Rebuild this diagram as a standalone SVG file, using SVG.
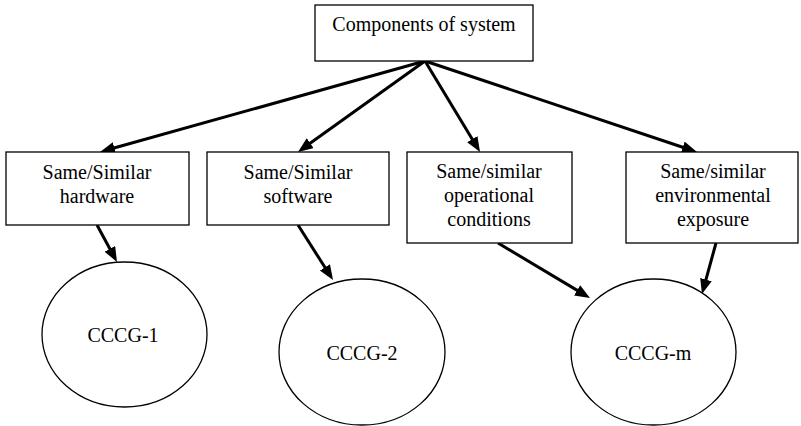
<svg xmlns="http://www.w3.org/2000/svg" width="801" height="426" viewBox="0 0 801 426">
  <style>
    .box { fill: #fff; stroke: #000; stroke-width: 1.3; }
    .oval { fill: #fff; stroke: #000; stroke-width: 1.3; }
    .lbl { font-family: "Liberation Serif", "Times New Roman", serif; font-size: 20px; fill: #000; text-anchor: middle; }
    .edge { stroke: #000; stroke-width: 3; fill: none; marker-end: url(#head); }
  </style>
  <defs>
    <marker id="head" markerUnits="userSpaceOnUse" markerWidth="16" markerHeight="13" refX="7" refY="6" orient="auto">
      <path d="M0,0 L15,6 L0,12 z" fill="#000"/>
    </marker>
  </defs>
  <rect width="801" height="426" fill="#fff"/>

  <g id="connectors">
    <line class="edge" x1="425" y1="61" x2="107.7" y2="149.8"/>
    <line class="edge" x1="425" y1="61" x2="304.5" y2="147.3"/>
    <line class="edge" x1="425" y1="61" x2="475.9" y2="145.2"/>
    <line class="edge" x1="425" y1="61" x2="689.4" y2="149.5"/>
    <line class="edge" x1="97" y1="225" x2="113.2" y2="255"/>
    <line class="edge" x1="298" y1="225" x2="328.7" y2="273.3"/>
    <line class="edge" x1="498" y1="243" x2="583.1" y2="293.9"/>
    <line class="edge" x1="716" y1="243" x2="704.1" y2="286.3"/>
  </g>

  <g id="components">
    <rect class="box" x="315" y="5" width="218" height="56"/>
    <text class="lbl" x="424" y="31">Components of system</text>
  </g>

  <g id="hardware">
    <rect class="box" x="6" y="152" width="183" height="73"/>
    <text class="lbl" x="97" y="179">Same/Similar</text>
    <text class="lbl" x="97" y="203">hardware</text>
  </g>

  <g id="software">
    <rect class="box" x="207" y="152" width="182" height="73"/>
    <text class="lbl" x="298" y="179">Same/Similar</text>
    <text class="lbl" x="298" y="203">software</text>
  </g>

  <g id="operational">
    <rect class="box" x="407" y="152" width="165" height="91"/>
    <text class="lbl" x="489" y="178">Same/similar</text>
    <text class="lbl" x="489" y="202">operational</text>
    <text class="lbl" x="489" y="226">conditions</text>
  </g>

  <g id="environmental">
    <rect class="box" x="626" y="152" width="172" height="91"/>
    <text class="lbl" x="713" y="178">Same/similar</text>
    <text class="lbl" x="713" y="202">environmental</text>
    <text class="lbl" x="713" y="226">exposure</text>
  </g>

  <g id="cccg-1">
    <ellipse class="oval" cx="124.5" cy="334.5" rx="82.5" ry="72.5"/>
    <text class="lbl" x="123" y="342">CCCG-1</text>
  </g>

  <g id="cccg-2">
    <ellipse class="oval" cx="362" cy="352" rx="83" ry="73"/>
    <text class="lbl" x="362" y="360">CCCG-2</text>
  </g>

  <g id="cccg-m">
    <ellipse class="oval" cx="653.5" cy="352" rx="82.5" ry="73"/>
    <text class="lbl" x="653" y="360">CCCG-m</text>
  </g>
</svg>
